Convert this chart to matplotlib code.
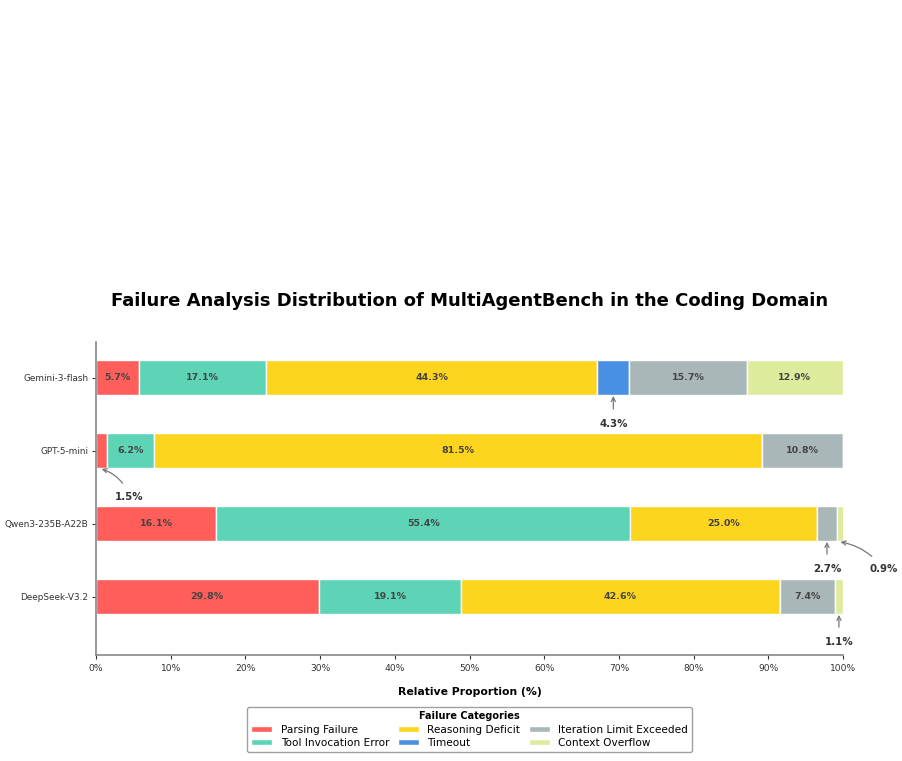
import numpy as np
import matplotlib
matplotlib.use("Agg")
import matplotlib.pyplot as plt

models = ["Gemini-3-flash", "GPT-5-mini", "Qwen3-235B-A22B", "DeepSeek-V3.2"]
categories = ["Parsing Failure", "Tool Invocation Error", "Reasoning Deficit",
              "Timeout", "Iteration Limit Exceeded", "Context Overflow"]
colors = ["#FF5E5B", "#5DD4B5", "#FDD41E", "#4A90E2", "#AAB7B8", "#DDEB9D"]

parsing = [5.7, 1.5, 16.1, 29.8]
tool = [17.1, 6.2, 55.4, 19.1]
reasoning = [44.3, 81.5, 25.0, 42.6]
timeout = [4.3, 0.0, 0.0, 0.0]
iteration = [15.7, 10.8, 2.7, 7.4]
context = [12.9, 0.0, 0.9, 1.1]
series = [parsing, tool, reasoning, timeout, iteration, context]

# small segments get an outside callout: (model idx, category idx, text x, text y offset, curve)
callouts = [(0, 3, None, 0.63, 0.0),
            (1, 0, 4.5, 0.63, 0.25),
            (2, 4, None, 0.62, 0.0),
            (2, 5, 105.4, 0.62, 0.2),
            (3, 5, None, 0.62, 0.0)]

fig = plt.figure(figsize=(9.03, 7.61), dpi=100)
ax = fig.add_axes([0.1063, 0.1393, 0.8273, 0.4113])

y = np.arange(len(models))
left = np.zeros(len(models))
for vals, cat, col in zip(series, categories, colors):
    vals = np.array(vals)
    ax.barh(y, vals, left=left, height=0.48, color=col, edgecolor="white",
            linewidth=1, label=cat)
    for i, v in enumerate(vals):
        if v >= 5:
            ax.text(left[i] + v / 2, y[i], f"{v:.1f}%", ha="center", va="center",
                    fontsize=6.8, fontweight="bold", color="#444444")
    left += vals

for mi, ci, tx, dy, rad in callouts:
    start = sum(series[k][mi] for k in range(ci))
    v = series[ci][mi]
    cx = start + v / 2
    if tx is None:
        tx = cx
    ax.annotate(f"{v:.1f}%", xy=(cx, y[mi] + 0.25), xytext=(tx, y[mi] + dy),
                ha="center", va="center", fontsize=7.4, fontweight="bold", color="#333333",
                arrowprops=dict(arrowstyle="->", color="#777777", lw=0.9,
                                connectionstyle=f"arc3,rad={rad}", shrinkA=5, shrinkB=0),
                annotation_clip=False)

ax.set_xlim(0, 100)
ax.set_ylim(3.8, -0.49)
ax.set_yticks(y)
ax.set_yticklabels(models, fontsize=6.4)
ax.set_xticks(np.arange(0, 101, 10))
ax.set_xticklabels([f"{t}%" for t in range(0, 101, 10)], fontsize=6.6)
ax.tick_params(colors="#333333", length=3, width=0.8)
ax.tick_params(axis="y", pad=2.5)
for s in ["top", "right"]:
    ax.spines[s].set_visible(False)
for s in ["left", "bottom"]:
    ax.spines[s].set_color("#888888")
    ax.spines[s].set_linewidth(1.2)

ax.set_xlabel("Relative Proportion (%)", fontsize=7.8, fontweight="bold", labelpad=10)
ax.set_title("Failure Analysis Distribution of MultiAgentBench in the Coding Domain",
             fontsize=13, fontweight="bold", pad=26)

leg = ax.legend(loc="upper center", bbox_to_anchor=(0.5, -0.15), ncol=3, fontsize=7.6,
                title="Failure Categories", title_fontproperties={"weight": "bold", "size": 7},
                frameon=True, edgecolor="#888888", handlelength=2.0, handleheight=0.6,
                columnspacing=0.8, borderpad=0.4, labelspacing=0.3)

fig.savefig("out.png", dpi=100)
